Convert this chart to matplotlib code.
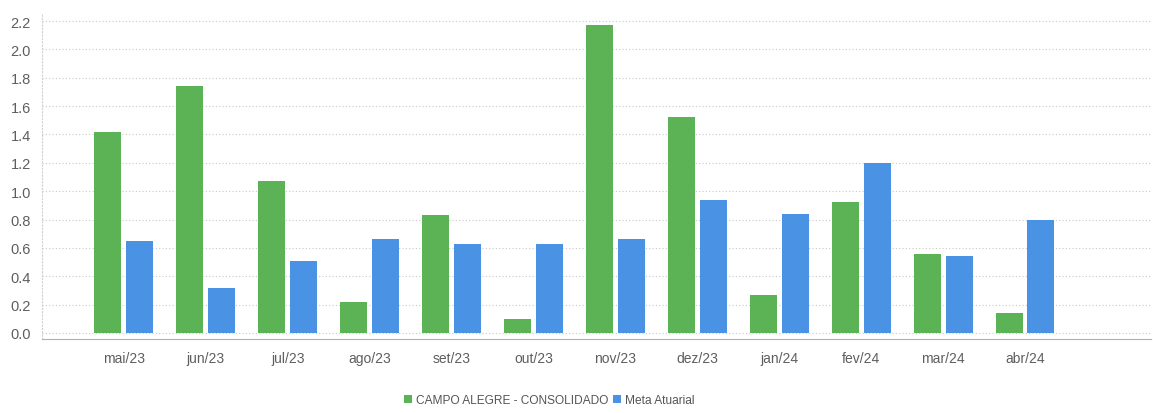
import matplotlib

matplotlib.use("Agg")
import matplotlib.pyplot as plt
import numpy as np

months = ["mai/23", "jun/23", "jul/23", "ago/23", "set/23", "out/23",
          "nov/23", "dez/23", "jan/24", "fev/24", "mar/24", "abr/24"]
campo_alegre = [1.42, 1.74, 1.07, 0.22, 0.83, 0.10, 2.17, 1.52, 0.27, 0.92, 0.56, 0.14]
meta_atuarial = [0.65, 0.32, 0.51, 0.66, 0.63, 0.63, 0.66, 0.94, 0.84, 1.20, 0.54, 0.80]
yticks = [0.0, 0.2, 0.4, 0.6, 0.8, 1.0, 1.2, 1.4, 1.6, 1.8, 2.0, 2.2]

GREEN = "#5cb356"
BLUE = "#4a93e4"
TXT = "#5e5e5e"

plt.rcParams["font.family"] = ["Liberation Sans", "DejaVu Sans"]

fig = plt.figure(figsize=(11.53, 4.14), dpi=100)
ax = fig.add_axes([0.0364, 0.179, 0.962, 0.787])

x = np.arange(len(months))
w = 0.33
ax.bar(x - w / 2 - 0.03, campo_alegre, w, color=GREEN, label="CAMPO ALEGRE - CONSOLIDADO", zorder=3)
ax.bar(x + w / 2 + 0.03, meta_atuarial, w, color=BLUE, label="Meta Atuarial", zorder=3)

ax.set_xlim(-1.0, 12.54)
ax.set_ylim(-0.042, 2.256)
ax.set_yticks(yticks)
ax.set_yticklabels([f"{v:.1f}" for v in yticks])
ax.set_xticks(x)
ax.set_xticklabels(months)

ax.grid(axis="y", color="#c8c8c8", linestyle=(0, (1, 2)), linewidth=0.8, zorder=0)
for side in ["top", "right"]:
    ax.spines[side].set_visible(False)
ax.spines["left"].set_color("#d0d0d0")
ax.spines["left"].set_linestyle((0, (1, 2)))
ax.spines["bottom"].set_color("#b0b0b0")
ax.spines["bottom"].set_linewidth(0.8)

ax.tick_params(axis="y", length=0, pad=8, labelsize=10.5, labelcolor=TXT)
ax.tick_params(axis="x", length=0, pad=9, labelsize=10, labelcolor=TXT)

leg = fig.legend(loc="center", bbox_to_anchor=(0.476, 0.031), ncol=2, frameon=False,
                 handlelength=0.7, handleheight=0.7, handletextpad=0.3, columnspacing=0.4,
                 prop={"family": ["Liberation Sans", "DejaVu Sans"], "size": 8.6})
for t in leg.get_texts():
    t.set_color("#555555")

fig.savefig("out.png", dpi=100)
